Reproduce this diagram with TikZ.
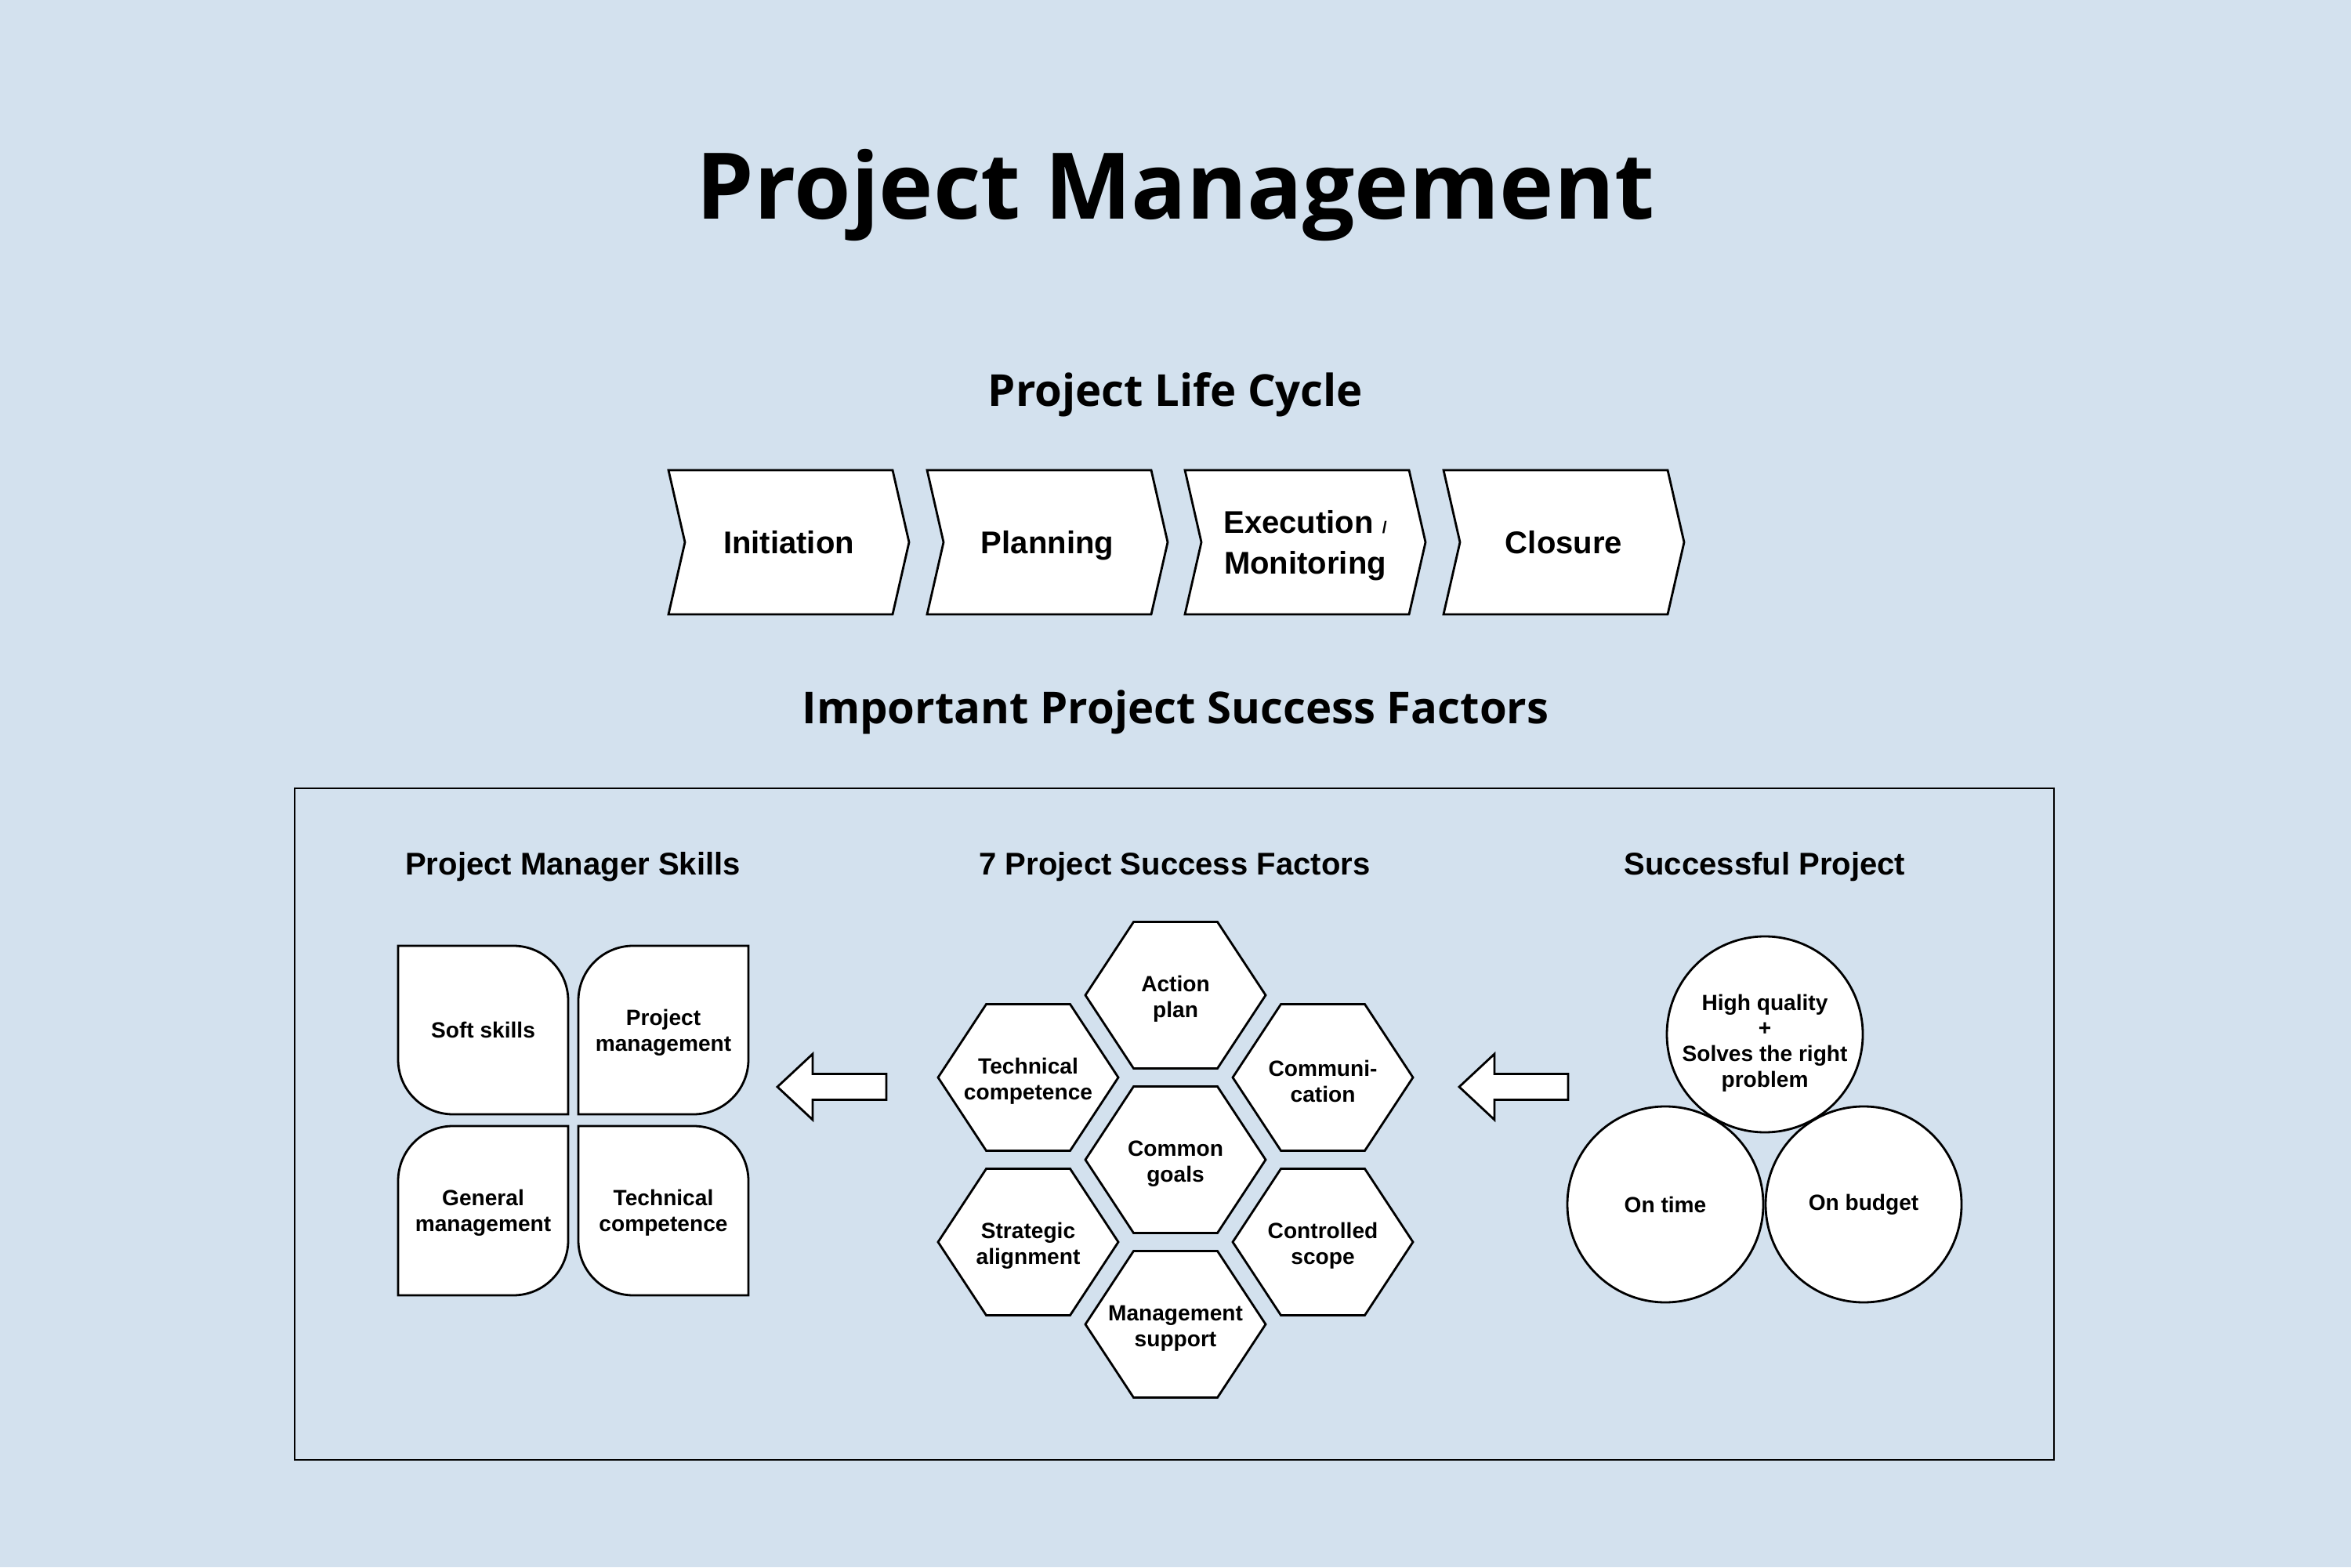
\documentclass[tikz,border=0pt]{standalone}
\usepackage{fontspec}
\setmainfont{Liberation Sans}
\newfontfamily\headfont{Open Sans}
\usetikzlibrary{positioning}
\definecolor{bgblue}{RGB}{211,225,238}

\begin{document}
\begin{tikzpicture}[line width=0.8pt,
  every node/.style={inner sep=0pt},
  heading/.style={font=\headfont\bfseries\fontsize{16}{19}\selectfont,anchor=base},
  sect/.style={font=\bfseries\fontsize{11.4}{14}\selectfont,anchor=base},
  phase/.style={font=\bfseries\fontsize{11.4}{14.8}\selectfont,align=center},
  chev/.style={draw,fill=white},
  skill/.style={font=\bfseries\fontsize{8}{9.3}\selectfont,align=center},
  skillbox/.style={draw,fill=white},
  hexa/.style={draw,fill=white},
  goal/.style={draw,fill=white,circle,minimum size=2.5cm,
    font=\bfseries\fontsize{8}{9.3}\selectfont,align=center},
  blockarrow/.style={draw,fill=white}]

\fill[bgblue] (0,0) rectangle (30,20);
\useasboundingbox (0,0) rectangle (30,20);

% titles
\node[font=\headfont\bfseries\fontsize{33.4}{40}\selectfont,anchor=base] (title) at (15,17.20) {Project Management};
\node[heading] (lifecycle) at (15,14.81) {Project Life Cycle};
\node[heading] (factors) at (15,10.76) {Important Project Success Factors};

% life cycle
\foreach \x in {8.53,11.83,15.12,18.42}
  \draw[chev] (\x,14.00) -- ++(2.86,0) -- ++(0.21,-0.92) -- ++(-0.21,-0.92)
    -- ++(-2.86,0) -- ++(0.21,0.92) -- cycle;
\node[phase,anchor=base] (initiation) at (10.065,12.93) {Initiation};
\node[phase,anchor=base] (planning) at (13.365,12.93) {Planning};
\node[phase] (execution) at (16.655,13.04) {Execution {\fontsize{6}{7}\selectfont/}\\Monitoring};
\node[phase,anchor=base] (closure) at (19.955,12.93) {Closure};

% success factors frame
\draw (3.76,9.94) rectangle (26.21,1.37);
\node[sect] (skillshd) at (7.31,8.83) {Project Manager Skills};
\node[sect] (factorshd) at (14.99,8.83) {7 Project Success Factors};
\node[sect] (successhd) at (22.52,8.83) {Successful Project};

% manager skills
\draw[skillbox] (5.08,7.93) -- (6.55,7.93) arc[start angle=90,end angle=0,radius=0.7]
  -- (7.25,5.78) -- (5.78,5.78) arc[start angle=270,end angle=180,radius=0.7] -- cycle;
\draw[skillbox] (9.55,7.93) -- (8.08,7.93) arc[start angle=90,end angle=180,radius=0.7]
  -- (7.38,5.78) -- (8.85,5.78) arc[start angle=270,end angle=360,radius=0.7] -- cycle;
\draw[skillbox] (7.25,5.63) -- (5.78,5.63) arc[start angle=90,end angle=180,radius=0.7]
  -- (5.08,3.47) -- (6.55,3.47) arc[start angle=270,end angle=360,radius=0.7] -- cycle;
\draw[skillbox] (7.38,5.63) -- (8.85,5.63) arc[start angle=90,end angle=0,radius=0.7]
  -- (9.55,3.47) -- (8.08,3.47) arc[start angle=270,end angle=180,radius=0.7] -- cycle;
\node[skill] (soft) at (6.165,6.855) {Soft skills};
\node[skill] (projmgmt) at (8.465,6.825) {Project\\management};
\node[skill] (genmgmt) at (6.165,4.52) {General\\management};
\node[skill] (techcomp) at (8.465,4.52) {Technical\\competence};

% 7 factors
\foreach \nm/\x/\y/\txt in {
    action/15.00/7.30/{Action\\plan},
    techhex/13.12/6.25/{Technical\\competence},
    comm/16.88/6.25/{Communi-\\cation},
    goals/15.00/5.20/{Common\\goals},
    strat/13.12/4.15/{Strategic\\alignment},
    scope/16.88/4.15/{Controlled\\scope},
    support/15.00/3.10/{Management\\support}} {
  \draw[hexa] (\x,\y) ++(-1.15,0) -- ++(0.615,0.935) -- ++(1.07,0) -- ++(0.615,-0.935)
    -- ++(-0.615,-0.935) -- ++(-1.07,0) -- cycle;
  \node[skill] (\nm) at (\x,\y-0.05) {\txt};
}

% successful project
\node[goal] (ontime) at (21.25,4.63) {On time};
\node[goal] (budget) at (23.78,4.63) {On budget};
\node[goal] (quality) at (22.52,6.80) {};
\node[skill] (qualitytxt) at ([yshift=-0.11cm]quality.center) {High quality\\+\\Solves the right\\problem};

% arrows
\coordinate (arrL) at (9.92,6.13);
\coordinate (arrR) at (18.62,6.13);
\foreach \c in {arrL,arrR}
  \draw[blockarrow] (\c) -- ++(0.45,0.42) -- ++(0,-0.255) -- ++(0.94,0) -- ++(0,-0.33)
    -- ++(-0.94,0) -- ++(0,-0.255) -- cycle;
\end{tikzpicture}
\end{document}
